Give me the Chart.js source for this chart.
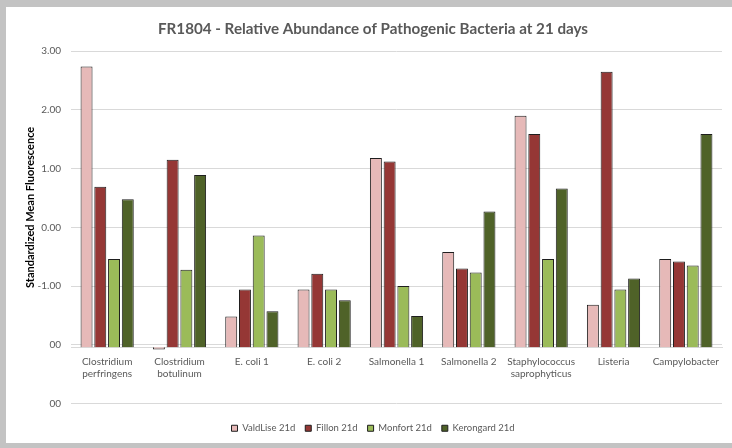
<!DOCTYPE html>
<html>
<head>
<meta charset="utf-8">
<script src="https://cdn.jsdelivr.net/npm/chart.js@4.4.1/dist/chart.umd.min.js"></script>
<style>
  html, body { margin: 0; padding: 0; }
  body { width: 732px; height: 448px; background: #c3c3c3; position: relative; overflow: hidden; }
  #panel { position: absolute; left: 6px; top: 7px; width: 726px; height: 436px; background: #fff; }
</style>
</head>
<body>
<div id="panel"><canvas id="chart" width="726" height="436"></canvas></div>
<script>
// =====================
// Data
// =====================
const categories = [
  ['Clostridium', 'perfringens'],
  ['Clostridium', 'botulinum'],
  'E. coli 1',
  'E. coli 2',
  'Salmonella 1',
  'Salmonella 2',
  ['Staphylococcus', 'saprophyticus'],
  'Listeria',
  'Campylobacter'
];
const valdlise  = [2.74, -2.08, -1.52, -1.06, 1.18, -0.42, 1.90, -1.32, -0.54];
const fillon    = [0.69, 1.15, -1.06, -0.79, 1.12, -0.70, 1.59, 2.65, -0.58];
const monfort   = [-0.54, -0.72, -0.14, -1.06, -1.00, -0.77, -0.54, -1.06, -0.65];
const kerongard = [0.48, 0.89, -1.43, -1.24, -1.51, 0.27, 0.66, -0.87, 1.59];
const seriesNames = ['ValdLise 21d', 'Fillon 21d', 'Monfort 21d', 'Kerongard 21d'];
const yTicks = [3, 2, 1, 0, -1, -2, -3];
const axisCross = -2.04; // where the category axis crosses the value axis

const colors = ['#e6b9b8', '#953735', '#9bbb59', '#4f6228'];

Chart.defaults.font.family = 'Lato';

// y axis title, centred a bit higher than the plot like the original
const yTitlePlugin = {
  id: 'yTitle',
  afterDraw(chart) {
    const ctx = chart.ctx;
    const area = chart.chartArea;
    ctx.save();
    ctx.translate(area.left - 41, (area.top + area.bottom) / 2 - 20);
    ctx.rotate(-Math.PI / 2);
    ctx.font = 'bold 11px Lato';
    ctx.fillStyle = '#000';
    ctx.textAlign = 'center';
    ctx.textBaseline = 'middle';
    ctx.fillText('Standardized Mean Fluorescence', 0, 0);
    ctx.restore();
  }
};

const seriesData = [valdlise, fillon, monfort, kerongard];

new Chart(document.getElementById('chart'), {
  type: 'bar',
  data: {
    labels: categories,
    datasets: seriesData.map((d, i) => ({
      label: seriesNames[i],
      data: d,
      base: axisCross,
      backgroundColor: colors[i],
      borderColor: '#1e1e1e',
      borderWidth: 1,
      categoryPercentage: 0.76,
      barPercentage: 0.87
    }))
  },
  options: {
    responsive: false,
    animation: false,
    layout: { padding: { left: 18, right: 10, top: 0, bottom: 0 } },
    plugins: {
      title: {
        display: true,
        text: 'FR1804 - Relative Abundance of Pathogenic Bacteria at 21 days',
        color: '#595959',
        font: { size: 15.2, weight: 'bold' },
        padding: { top: 13, bottom: 13 }
      },
      legend: {
        position: 'bottom',
        // empty title only used as spacing between the plot and the legend
        title: { display: true, text: '', font: { size: 0 }, padding: { top: 10, bottom: 0 } },
        labels: {
          color: '#595959',
          font: { size: 9.5 },
          boxWidth: 6,
          boxHeight: 6,
          padding: 10
        }
      },
      tooltip: { enabled: false }
    },
    scales: {
      x: {
        position: { y: axisCross },
        grid: { display: false, drawTicks: false },
        border: { display: true, color: '#d9d9d9' },
        ticks: {
          color: '#595959',
          font: { size: 10 },
          padding: 9,
          maxRotation: 0,
          autoSkip: false
        }
      },
      y: {
        min: -3,
        max: 3,
        afterBuildTicks: (s) => { s.ticks = yTicks.map(v => ({ value: v })); },
        grid: { color: '#d9d9d9', drawTicks: false },
        border: { display: false },
        ticks: {
          color: '#595959',
          font: { size: 10 },
          padding: 10,
          callback: (v) => v >= -1 ? v.toFixed(2) : '00'
        },
        afterFit: (s) => { s.width = 47; }
      }
    }
  },
  plugins: [yTitlePlugin]
});
</script>
</body>
</html>
